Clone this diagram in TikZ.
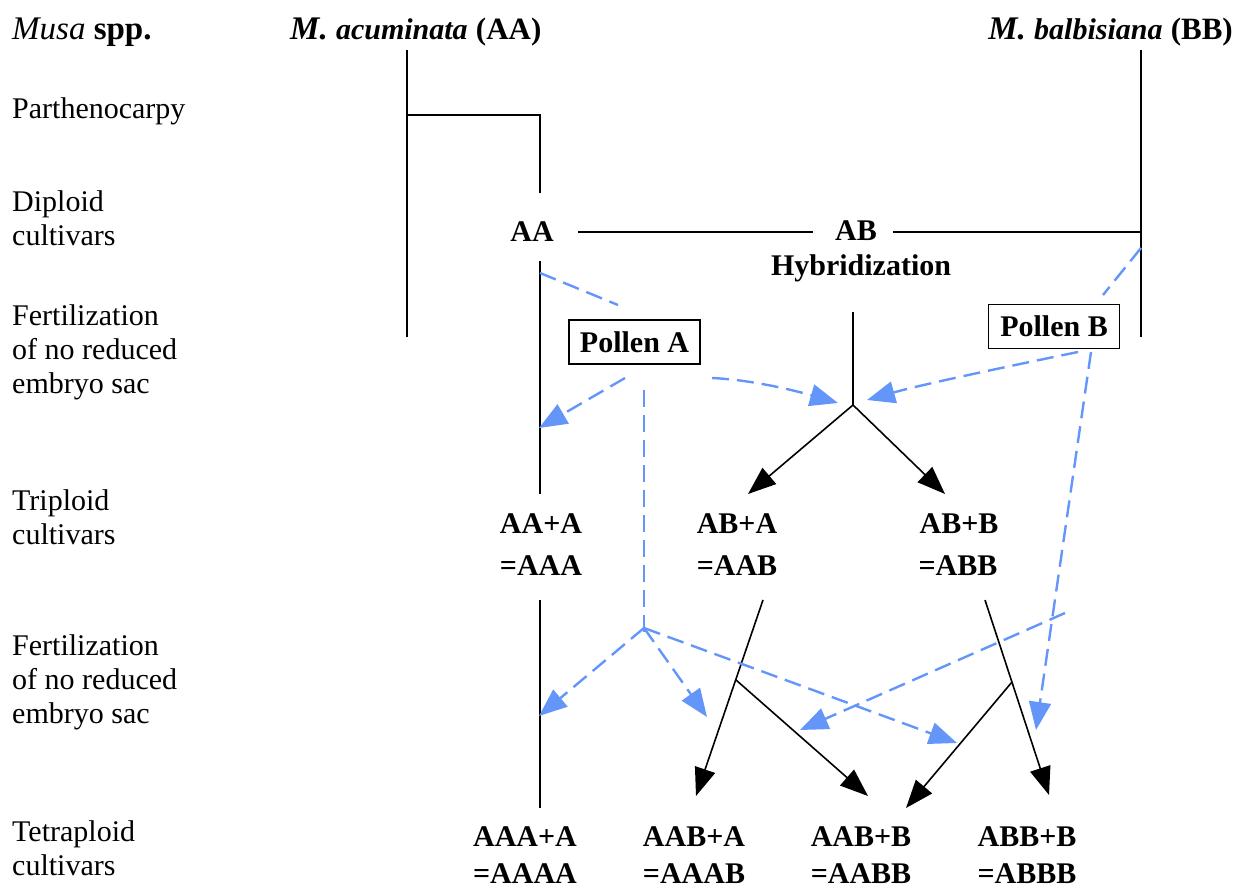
\documentclass[tikz,border=0pt]{standalone}
\usepackage{fontspec}
\setmainfont{Liberation Serif}
\usetikzlibrary{arrows.meta}
\definecolor{pblue}{RGB}{100,150,250}
\begin{document}
\begin{tikzpicture}[x=1pt,y=-1pt,
  lab/.style={anchor=base west, inner sep=0, font=\fontsize{30}{35}\selectfont},
  hdr/.style={inner sep=0, font=\fontsize{33}{38}\selectfont},
  geno/.style={anchor=base, inner sep=0, font=\fontsize{30}{36}\selectfont\bfseries},
  pbox/.style={draw, line width=1.5pt, inner sep=0, minimum width=131pt, minimum height=44pt, font=\fontsize{30}{36}\selectfont\bfseries},
  bl/.style={line width=1.6pt, line cap=butt},
  blarr/.style={bl, -{Triangle[length=28pt,width=21pt]}},
  bd/.style={pblue, line width=2.4pt, dash pattern=on 17pt off 8pt},
  bdarr/.style={bd, -{Triangle[length=28pt,width=22pt]}}
]
\useasboundingbox (0,0) rectangle (1245,890);

% headers
\node[hdr, anchor=base west] (musa) at (12,40) {\textit{Musa} \textbf{spp.}};
\node[hdr, anchor=base west] (acum) at (290,40) {\textbf{\textit{M.} {\fontsize{30}{36}\selectfont\textit{acuminata}}} {\fontsize{31}{36}\selectfont\textbf{(AA)}}};
\node[hdr, anchor=base east] (balb) at (1233,40) {\textbf{\textit{M.} {\fontsize{30}{36}\selectfont\textit{balbisiana}}} {\fontsize{31}{36}\selectfont\textbf{(BB)}}};

% left labels
\node[lab] (l1) at (12,119) {Parthenocarpy};
\node[lab] (l2a) at (12,212) {Diploid};
\node[lab] (l2b) at (12,246) {cultivars};
\node[lab] (l3a) at (12,326) {Fertilization};
\node[lab] (l3b) at (12,360) {of no reduced};
\node[lab] (l3c) at (12,394) {embryo sac};
\node[lab] (l4a) at (12,510) {Triploid};
\node[lab] (l4b) at (12,544) {cultivars};
\node[lab] (l5a) at (12,655) {Fertilization};
\node[lab] (l5b) at (12,689) {of no reduced};
\node[lab] (l5c) at (12,723) {embryo sac};
\node[lab] (l6a) at (12,841) {Tetraploid};
\node[lab] (l6b) at (12,875) {cultivars};

% genotype texts
\node[geno] (aa) at (532,242) {AA};
\node[geno] (ab) at (856,241) {AB};
\node[geno] (hyb) at (861,276) {Hybridization};
\node[geno] (t1a) at (541,533) {AA+A};
\node[geno] (t1b) at (541,575) {=AAA};
\node[geno] (t2a) at (737,533) {AB+A};
\node[geno] (t2b) at (737,575) {=AAB};
\node[geno] (t3a) at (959,533) {AB+B};
\node[geno] (t3b) at (958,575) {=ABB};
\node[geno] (q1a) at (525,846) {AAA+A};
\node[geno] (q1b) at (525,883) {=AAAA};
\node[geno] (q2a) at (694,846) {AAB+A};
\node[geno] (q2b) at (694,883) {=AAAB};
\node[geno] (q3a) at (861,846) {AAB+B};
\node[geno] (q3b) at (861,883) {=AABB};
\node[geno] (q4a) at (1027,846) {ABB+B};
\node[geno] (q4b) at (1027,883) {=ABBB};

% pollen boxes
\node[pbox] (pA) at (634.5,342) {Pollen A};
\node[pbox] (pB) at (1054,326.5) {Pollen B};

% coordinates
\coordinate (aTop) at (407,50);
\coordinate (aBot) at (407,337);
\coordinate (aMid) at (407,115);
\coordinate (aaCorner) at (540,115);
\coordinate (aaTop) at (540,193);
\coordinate (abL1) at (578,232);
\coordinate (abL2) at (813,232);
\coordinate (abR1) at (893,232);
\coordinate (bJ) at (1141,232);
\coordinate (bTop) at (1141,50);
\coordinate (bBot) at (1141,337);
\coordinate (aaV1) at (540,261);
\coordinate (aaV2) at (540,494);
\coordinate (hyT) at (853,312);
\coordinate (apex) at (853,405);
\coordinate (tAAB) at (748,494);
\coordinate (tABB) at (945,494);
\coordinate (aaaV1) at (540,600);
\coordinate (aaaV2) at (540,808);
\coordinate (aabS) at (763,600);
\coordinate (aabT) at (696,796);
\coordinate (aabJ) at (736,680);
\coordinate (aabbT1) at (868,796);
\coordinate (abbS) at (985,600);
\coordinate (abbT) at (1049,795);
\coordinate (abbJ) at (1012,682);
\coordinate (aabbT2) at (906,808);

\coordinate (aaB) at (540,273);
\coordinate (pAin) at (618,305);
\coordinate (bbB) at (1141,248);
\coordinate (pBin) at (1103,295);
\coordinate (pA1) at (625,378);
\coordinate (aaHit) at (539,428);
\coordinate (pA2) at (644,390);
\coordinate (jA) at (644,628);
\coordinate (jEnd) at (644,638);
\coordinate (pA3) at (712,378);
\coordinate (apexL) at (838,403);
\coordinate (pB1) at (1078,352);
\coordinate (apexR) at (867,400);
\coordinate (pB2) at (1091,352);
\coordinate (abbHit) at (1036,730);
\coordinate (aaaHit) at (539,716);
\coordinate (aaabHit) at (707,717);
\coordinate (aabbHitA) at (957,743);
\coordinate (bS) at (1065,613);
\coordinate (aabbHitB) at (800,730);

% black lines
\draw[bl] (aTop) -- (aBot);
\draw[bl] (aMid) -- (aaCorner) -- (aaTop);
\draw[bl] (abL1) -- (abL2);
\draw[bl] (abR1) -- (bJ);
\draw[bl] (bTop) -- (bBot);
\draw[bl] (aaV1) -- (aaV2);
\draw[bl] (hyT) -- (apex);
\draw[blarr] (apex) -- (tAAB);
\draw[blarr] (apex) -- (tABB);
\draw[bl] (aaaV1) -- (aaaV2);
\draw[blarr] (aabS) -- (aabT);
\draw[blarr] (aabJ) -- (aabbT1);
\draw[blarr] (abbS) -- (abbT);
\draw[blarr] (abbJ) -- (aabbT2);

% blue dashed
\draw[bd] (aaB) -- (pAin);
\draw[bd] (bbB) -- (pBin);
\draw[bdarr] (pA1) -- (aaHit);
\draw[bd] (pA2) -- (jEnd);
\draw[bdarr] (pA3) .. controls (755,380) and (800,392) .. (apexL);
\draw[bdarr] (pB1) .. controls (1000,368) and (920,385) .. (apexR);
\draw[bdarr] (pB2) -- (abbHit);
\draw[bdarr] (jA) -- (aaaHit);
\draw[bdarr] (jA) -- (aaabHit);
\draw[bdarr] (jA) -- (aabbHitA);
\draw[bdarr] (bS) -- (aabbHitB);
\end{tikzpicture}
\end{document}
